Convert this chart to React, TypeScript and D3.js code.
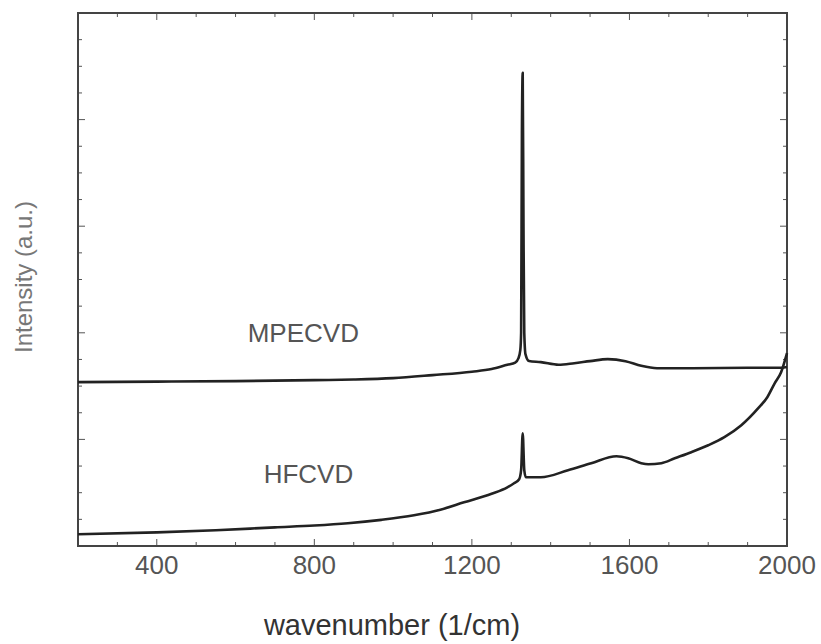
import React from "react";
import * as d3 from "d3";

// Raman spectra (wavenumber in 1/cm, intensity in a.u.)
const mpecvdWave = [200, 400, 600, 800, 900, 1000, 1100, 1200, 1250, 1290, 1310, 1318, 1323, 1325, 1327, 1329, 1331, 1333, 1336, 1345, 1375, 1420, 1460, 1500, 1545, 1590, 1630, 1670, 1760, 1900, 1980, 2000];
const mpecvdInt = [1.537, 1.542, 1.547, 1.556, 1.562, 1.575, 1.603, 1.635, 1.66, 1.7, 1.72, 1.76, 1.84, 2.0, 3.88, 4.439, 3.0, 2.0, 1.8, 1.735, 1.725, 1.7, 1.715, 1.734, 1.753, 1.734, 1.69, 1.668, 1.668, 1.672, 1.672, 1.68];

const hfcvdWave = [200, 400, 550, 700, 800, 885, 970, 1053, 1120, 1180, 1250, 1290, 1307, 1320, 1325, 1329, 1333, 1337, 1375, 1444, 1503, 1567, 1597, 1630, 1648, 1681, 1715, 1757, 1800, 1841, 1884, 1927, 1950, 1969, 1985, 2000];
const hfcvdInt = [0.11, 0.128, 0.148, 0.175, 0.192, 0.213, 0.245, 0.288, 0.34, 0.41, 0.49, 0.55, 0.589, 0.626, 0.711, 1.058, 0.711, 0.645, 0.645, 0.711, 0.777, 0.842, 0.823, 0.777, 0.767, 0.777, 0.823, 0.88, 0.945, 1.021, 1.133, 1.293, 1.396, 1.528, 1.63, 1.809];

const xTickLabels = [400, 800, 1200, 1600, 2000];
const seriesNames = ["MPECVD", "HFCVD"];

const W = 821;
const H = 644;
const margin = { top: 13, right: 34, bottom: 98, left: 78 };
const font = "'Liberation Sans', Arial, sans-serif";

const App = () => {
  // scales
  const x = d3.scaleLinear().domain([200, 2000]).range([margin.left, W - margin.right]);
  const y = d3.scaleLinear().domain([0, 5]).range([H - margin.bottom, margin.top]);

  const line = d3.line<[number, number]>()
    .x(d => x(d[0]))
    .y(d => y(d[1]))
    .curve(d3.curveMonotoneX);

  const mpecvd = mpecvdWave.map((w, i) => [w, mpecvdInt[i]] as [number, number]);
  const hfcvd = hfcvdWave.map((w, i) => [w, hfcvdInt[i]] as [number, number]);

  const xMinor = d3.range(200, 2001, 100);
  const yMinor = d3.range(0, 5.001, 0.25);

  const [x0, x1] = x.range();
  const [y0, y1] = y.range();

  return (
    <svg width={W} height={H} style={{ position: "absolute", left: 0, top: 0, background: "#fff" }}>
      {/* x ticks, bottom and top, pointing in */}
      {xMinor.map(v => {
        const len = v % 400 === 0 ? 7 : 4;
        return (
          <g key={"xt" + v} stroke="#555" strokeWidth={1}>
            <line x1={x(v)} x2={x(v)} y1={y0} y2={y0 - len} />
            <line x1={x(v)} x2={x(v)} y1={y1} y2={y1 + len} />
          </g>
        );
      })}
      {/* y ticks, left and right */}
      {yMinor.map(v => {
        const len = Math.abs(v - Math.round(v)) < 1e-6 ? 7 : 4;
        return (
          <g key={"yt" + v} stroke="#555" strokeWidth={1}>
            <line x1={x0} x2={x0 + len} y1={y(v)} y2={y(v)} />
            <line x1={x1} x2={x1 - len} y1={y(v)} y2={y(v)} />
          </g>
        );
      })}

      {/* frame */}
      <rect x={x0} y={y1} width={x1 - x0} height={y0 - y1} fill="none" stroke="#444" strokeWidth={2} />

      {/* spectra */}
      <path d={line(mpecvd) ?? ""} fill="none" stroke="#222" strokeWidth={2.6} strokeLinejoin="round" />
      <path d={line(hfcvd) ?? ""} fill="none" stroke="#222" strokeWidth={2.6} strokeLinejoin="round" />

      {/* series labels */}
      <text x={x(772)} y={y(1.915)} fontFamily={font} fontSize={26} fill="#555" textAnchor="middle">{seriesNames[0]}</text>
      <text x={x(785)} y={y(0.59)} fontFamily={font} fontSize={26} fill="#555" textAnchor="middle">{seriesNames[1]}</text>

      {/* x tick labels */}
      {xTickLabels.map(v => (
        <text key={"xl" + v} x={x(v)} y={y0 + 28} fontFamily={font} fontSize={26} fill="#555" textAnchor="middle">{v}</text>
      ))}

      {/* axis titles */}
      <text x={392} y={635} fontFamily={font} fontSize={29} fill="#333" textAnchor="middle">wavenumber (1/cm)</text>
      <text transform={`translate(32, ${277}) rotate(-90)`} fontFamily={font} fontSize={24} fill="#777" textAnchor="middle">Intensity (a.u.)</text>
    </svg>
  );
};

export default App;
